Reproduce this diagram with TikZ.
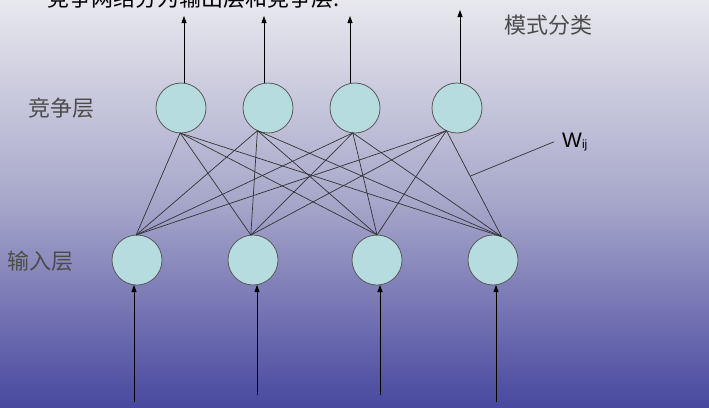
\documentclass[tikz,border=0pt]{standalone}
\usepackage{fontspec}
\newfontfamily\cjk{Noto Sans CJK SC}
\setsansfont{Liberation Sans}
\usetikzlibrary{arrows.meta,calc}
\definecolor{bgtop}{HTML}{E8E8EE}
\definecolor{bgmid}{HTML}{A6A6CA}
\definecolor{bgbot}{HTML}{4848A0}
\definecolor{cellfill}{HTML}{B6DCE0}
\begin{document}
\begin{tikzpicture}[x=1pt,y=-1pt,
    neuron/.style={circle,draw=black!65,fill=cellfill,minimum size=50pt,inner sep=0pt,outer sep=0pt,line width=0.8pt},
    link/.style={draw=black!80,line width=0.7pt},
    tip/.style={-{Triangle[length=7pt,width=5pt]},line width=0.8pt},
    layername/.style={font=\cjk\fontsize{22}{24}\selectfont,text=black!70,anchor=west,inner sep=0pt}]
    \clip (0,0) rectangle (709,407);
    \shade[top color=bgtop,bottom color=bgbot,middle color=bgmid] (0,0) rectangle (709,407);
    % neurons
    \foreach \n/\x in {1/181,2/268,3/355,4/457} \node[neuron] (c\n) at (\x,108) {};
    \foreach \n/\x in {1/137,2/253,3/377,4/493} \node[neuron] (i\n) at (\x,260) {};
    % weights
    \foreach \c/\ca in {1/268,2/245,3/265,4/245}
      \foreach \i/\ia in {1/92,2/95,3/90,4/70}
        \draw[link] (c\c.\ca) -- (i\i.\ia);
    % outputs and inputs
    \foreach \n/\x/\y in {1/184/16,2/264/16,3/350/16,4/460/10} {
      \coordinate (o\n) at (\x,\y);
      \draw[tip] (o\n |- c\n.north) -- (o\n);
    }
    \foreach \n/\x/\y in {1/134/402,2/257/395,3/380/395,4/496/402} {
      \coordinate (x\n) at (\x,\y);
      \draw[tip] (x\n) -- (x\n |- i\n.south);
    }
    % labels
    \node[layername,text=black,anchor=base west] (title) at (47,6) {竞争网络分为输出层和竞争层:};
    \node[layername] (comp) at (28,108) {竞争层};
    \node[layername] (inp) at (7,261) {输入层};
    \node[layername] (cls) at (504,25) {模式分类};
    \node[font=\sffamily\fontsize{21}{24}\selectfont,anchor=base west,inner sep=0pt] (w) at (562,147) {W\raisebox{-1.5pt}{\fontsize{12}{12}\selectfont ij}};
    \coordinate (wf) at ($(c4.245)!0.43!(i4.70)$);
    \draw[link] ([xshift=-8pt]w.west) -- (wf);
\end{tikzpicture}
\end{document}
